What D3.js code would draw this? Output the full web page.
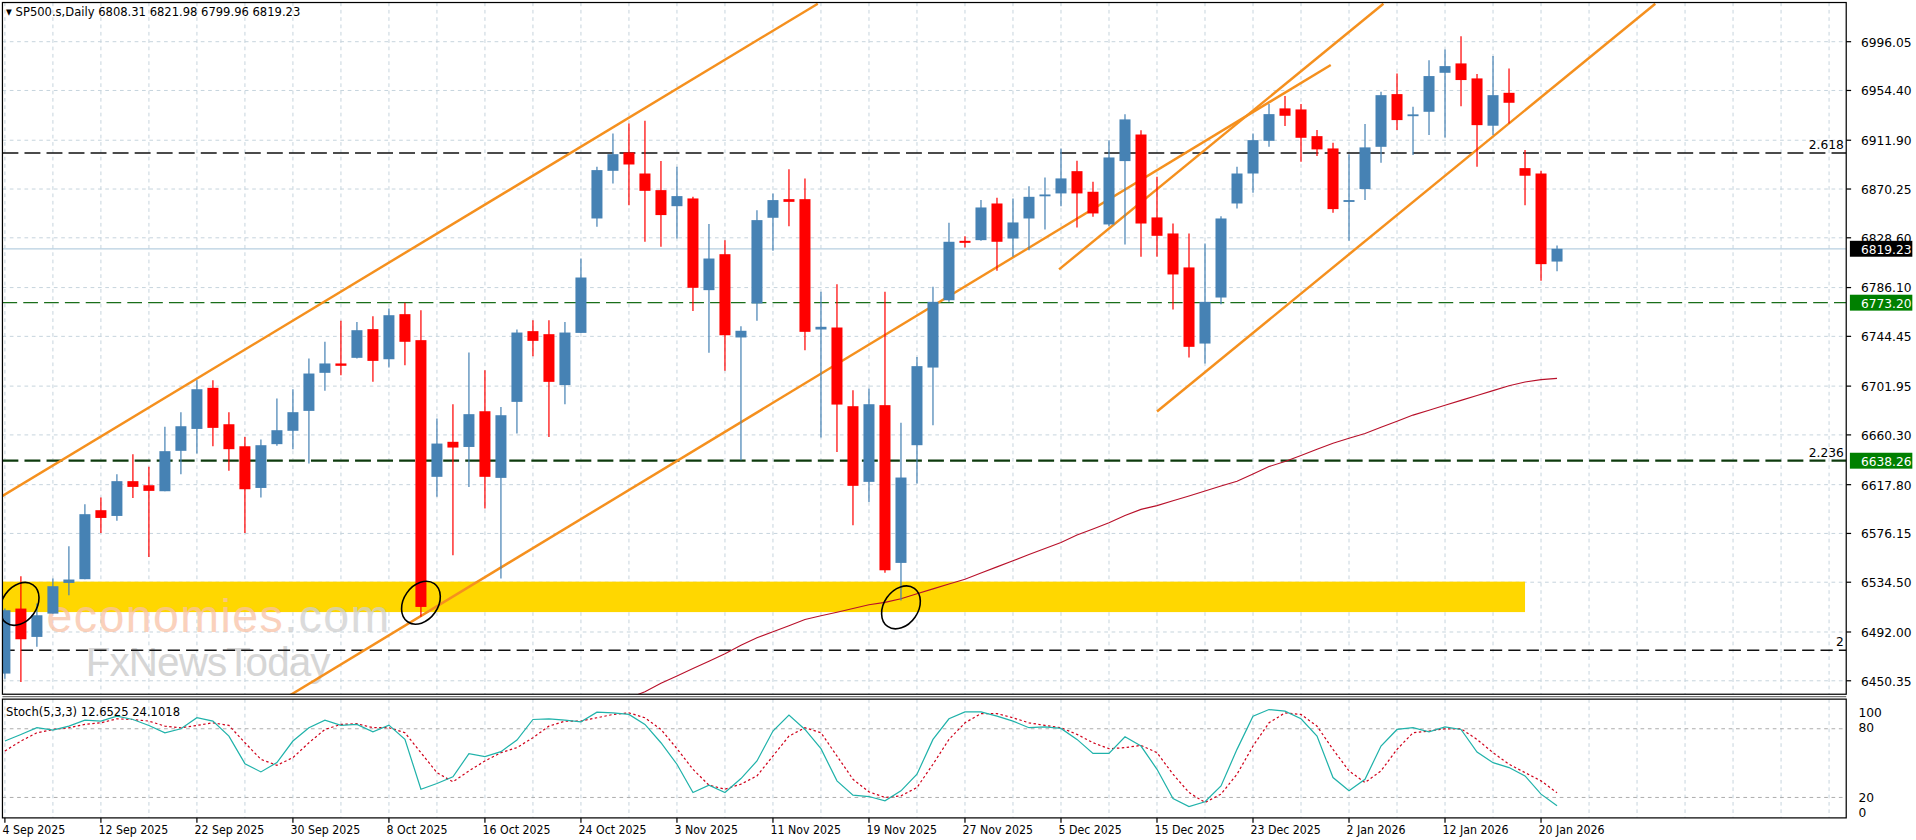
<!DOCTYPE html>
<html><head><meta charset="utf-8">
<script src="https://cdn.jsdelivr.net/npm/d3@7/dist/d3.min.js"></script>
<style>html,body{margin:0;padding:0;background:#fff;overflow:hidden}</style>
</head><body>
<script>
const dateLabels = ["4 Sep 2025","12 Sep 2025","22 Sep 2025","30 Sep 2025","8 Oct 2025","16 Oct 2025","24 Oct 2025","3 Nov 2025","11 Nov 2025","19 Nov 2025","27 Nov 2025","5 Dec 2025","15 Dec 2025","23 Dec 2025","2 Jan 2026","12 Jan 2026","20 Jan 2026"];
const priceTicks = [6996.05,6954.40,6911.90,6870.25,6828.60,6786.10,6744.45,6701.95,6660.30,6617.80,6576.15,6534.50,6492.00,6450.35];
const open = [6456.5,6512,6487.8,6507.7,6533.9,6537.1,6596,6591.1,6620.8,6617.3,
6612.2,6646.7,6665.4,6700.5,6669.4,6650.6,6615,6652.4,6663.8,6680.8,
6713.3,6721.3,6726.1,6750.6,6724.9,6763.4,6741.2,6624.5,6654.4,6650,
6680.5,6623.6,6688.5,6748.9,6746.3,6702.8,6747.4,6845.1,6885.8,6901.5,
6883.5,6869.3,6855.6,6862.2,6783.9,6814.6,6743.5,6772.5,6845.7,6861.6,
6861.6,6750.3,6752,6684.8,6620.2,6685.7,6551,6651.5,6717.8,6775.3,
6826,6826.6,6857.9,6828,6845.1,6864.5,6866.5,6885.5,6867.9,6840,
6894.1,6916.8,6846,6832.3,6803.3,6738.3,6777.6,6857.9,6883.5,6911.4,
6939.1,6938.2,6915.4,6904.9,6859.4,6870.2,6906.3,6951.3,6933.2,6936.2,
6969.5,6977.5,6964.7,6924.3,6952.4,6888.1,6883.5,6808.31];
const high = [6512,6539.6,6516.3,6537.6,6565.2,6601.1,6606.8,6626.7,6643.8,6633,
6667.2,6679.7,6707,6707,6679.7,6658.6,6656.3,6691.4,6699.3,6725.5,
6739.8,6757.7,6756.8,6761.7,6768.2,6773.1,6766.8,6674.3,6686.5,6730.6,
6715.6,6684.2,6750.3,6758.3,6758.3,6756.8,6810.9,6889.2,6917.7,6926.2,
6928.5,6894.1,6889.2,6863.6,6840.3,6826.6,6753.1,6852.2,6866.5,6887.2,
6879.3,6782.5,6789,6698.5,6699.9,6782.5,6670.6,6726.9,6786.7,6841.4,
6830,6860.8,6862.8,6862.2,6872.7,6880.1,6904.9,6894.4,6876.4,6912,
6934.2,6920.5,6880.7,6840.8,6832.3,6823.8,6847.1,6889.2,6917.7,6942.8,
6949.6,6942.8,6920.6,6909.7,6900,6925.7,6953.3,6968.9,6940.5,6980.3,
6989.4,7000.8,6968.4,6983.8,6973.2,6903.5,6885.8,6821.98];
const low = [6452,6449.4,6479.3,6507.7,6523.4,6537,6576.6,6586.9,6606.5,6556.1,
6612.2,6626.7,6644.4,6650.6,6629.6,6576.6,6606.8,6651,6648.1,6635.8,
6697.9,6711.3,6725.5,6705.6,6717.8,6719.8,6505,6607.4,6557.5,6615.9,
6597.4,6537.6,6661.5,6727.5,6658.6,6686.5,6747.4,6838,6875,6856.5,
6825.2,6820.9,6828,6766.2,6730.4,6715,6638.7,6757.7,6817.5,6838.5,
6732.6,6658,6645.8,6583.2,6603.1,6542.5,6519,6618.8,6668.6,6773.9,
6820.3,6826,6800.4,6812.4,6818,6835.7,6855.6,6837.4,6846.5,6838.5,
6822.9,6812.4,6812.4,6767.4,6726.4,6721.3,6771.9,6853.6,6867,6906.3,
6924,6893.5,6898.4,6850,6826,6860.8,6892.6,6920.6,6899.2,6916.3,
6914.3,6941,6889.2,6916.3,6926.2,6856.5,6791.9,6799.96];
const close = [6510.6,6485.8,6506.3,6531.1,6536.8,6592.6,6589.4,6620.8,6615.9,6612.5,
6646.4,6667.7,6699.3,6666.3,6648.1,6613.9,6651.5,6664.3,6679.7,6712.7,
6721.3,6719.3,6749.7,6723.5,6762.5,6739.8,6513.4,6652.9,6649.5,6678,
6624.5,6677.1,6747.7,6740.6,6705.6,6747.7,6794.7,6886.4,6900,6891.2,
6868.7,6848,6864.2,6785.9,6810.9,6745.4,6749.2,6843.7,6860.8,6859.3,
6748.3,6752.6,6686.2,6616.8,6686.5,6544.7,6623.9,6719,6773.9,6825.2,
6824.3,6854.5,6825.2,6841.7,6863.6,6865.6,6879.3,6866.5,6849.4,6897.2,
6929.7,6840.8,6830.3,6797.3,6735.5,6773.9,6845.1,6883.5,6912,6934.2,
6932.8,6914,6904.1,6853.1,6860.8,6905.8,6950.4,6929.1,6934,6966.7,
6975.2,6963.3,6924.8,6950.4,6943.9,6881.6,6806.1,6819.23];
const maStart = 39;
const ma = [6435.7,6440.9,6448.3,6454.5,6460.8,6467.1,6473.4,6480.7,6487.0,6492.2,
6497.4,6502.6,6505.8,6508.9,6512.0,6515.2,6517.3,6520.4,6524.6,6528.8,
6533.0,6537.1,6542.4,6547.6,6552.8,6558.1,6563.3,6568.5,6574.8,6580.0,
6585.2,6591.5,6596.7,6599.9,6604.0,6608.2,6612.4,6616.6,6620.8,6627.0,
6633.3,6637.5,6642.7,6648.0,6653.2,6657.4,6661.5,6666.8,6672.0,6677.2,
6681.4,6685.6,6689.8,6693.9,6698.1,6702.3,6705.4,6707.5,6708.6];
const stochK = [69.3,75,80.9,78.8,82.3,87.5,86.7,91,88.1,82.9,
76.5,80,89.6,86.7,73.6,49.5,42.3,50.4,69.3,80.9,
87.5,82.9,83.8,77.4,83.2,70.7,27.2,32.2,38,58.3,
55.6,60,70.1,88.1,88.7,87.5,86.1,94.5,93.9,92.5,
83.8,67.8,49,24.3,30.7,24.3,36.5,51.9,78,91.9,
79.4,62.6,34.5,22,20.8,17.1,25.8,40.3,70.7,88.7,
94.8,94.8,91,86.7,80.9,81.7,80.3,70.7,58.5,58.5,
73,64.9,44.6,19.1,12.1,16.2,30.1,62,91,96.8,
95.4,88.7,73.6,37.4,25.8,35.9,64.9,79.4,80.9,77.4,
81.7,79.4,59.7,50.4,46.1,38.8,22.9,12.6525];
const stochD = [60.6,69.3,76.5,79.4,80.9,83.8,85.2,88.7,88.1,86.7,
82.3,80.9,82.9,85.2,82.9,67.8,53.3,48.1,54.8,67.8,
79.4,83.8,84.4,80.9,80.9,76.5,59.1,41.7,33.6,43.2,
51.9,59.1,63.5,72.2,82.3,86.7,86.7,89.6,92.5,93.9,
89.6,79.4,62.6,44.6,30.7,27.2,31.6,38.8,56.2,73.6,
80.9,76.5,56.2,35.9,24.9,20,21.4,28.7,49,70.7,
85.2,93.3,93.3,89.6,85.2,82.9,80.9,75.1,67.8,62.6,
63.5,65.5,59.1,40.3,24.3,15.6,22.9,40.3,64.9,85.2,
93.9,92.5,82.3,62,43.2,33,43.2,62,76.5,78,
80,80,70.7,59.1,49,41.7,34.5,24.1018];
const trendLines = [[-0.15,6608.2,50.8,7028.5],[17.29,6433.6,82.86,6976.2],[65.88,6801.6,86.15,7028.5],[72.0,6680.3,103.14,7028.5]];
const fiboLevels = [{p:6901.0,label:"2.618"},{p:6638.26,label:"2.236"},{p:6476.5,label:"2"}];
const supportLevel = 6773.20;
const lastPrice = 6819.23;
const zone = [-0.3, 95.0, 6509.0, 6535.0];
const ellipses = [[0.92,6516],[26.0,6517],[56.0,6513]];

const W=1565,H=686, L=2, R=1508, T=2, B=567, ST=571, SB=668;
const svg=d3.select("body").append("svg").attr("width",1916).attr("height",840)
  .attr("viewBox",`0 0 ${W} ${H}`).style("font-family","'DejaVu Sans',sans-serif");
const x=d3.scaleLinear().domain([0,97]).range([4,4+13.07*97]);
const y=d3.scaleLinear().domain([6450.35,6996.05]).range([556,34]);
const ys=d3.scaleLinear().domain([0,100]).range([670,576.5]);
svg.append("defs").append("clipPath").attr("id","cm").append("rect").attr("x",L).attr("y",T).attr("width",R-L).attr("height",B-T);
svg.select("defs").append("clipPath").attr("id","cs").append("rect").attr("x",L).attr("y",ST).attr("width",R-L).attr("height",SB-ST);
const grid="#c5d3dc";
const vg=d3.range(0,116,3).filter(i=>x(i)<R-1);
[[T,B],[ST,SB]].forEach(([a,b])=>svg.append("g").selectAll("line").data(vg).join("line")
  .attr("x1",d=>x(d)).attr("x2",d=>x(d)).attr("y1",a).attr("y2",b)
  .attr("stroke",grid).attr("stroke-dasharray","3,3").attr("stroke-width",0.8));
svg.append("g").selectAll("line").data(priceTicks).join("line")
  .attr("x1",L).attr("x2",R).attr("y1",d=>y(d)).attr("y2",d=>y(d))
  .attr("stroke",grid).attr("stroke-dasharray","3,3").attr("stroke-width",0.8);
svg.append("g").selectAll("line").data([20,80]).join("line")
  .attr("x1",L).attr("x2",R).attr("y1",d=>ys(d)).attr("y2",d=>ys(d))
  .attr("stroke","#aaa").attr("stroke-dasharray","3,3").attr("stroke-width",0.8);
const gm=svg.append("g").attr("clip-path","url(#cm)");
gm.append("rect").attr("x",x(zone[0])).attr("width",x(zone[1])-x(zone[0]))
  .attr("y",y(zone[3])).attr("height",y(zone[2])-y(zone[3])).attr("fill","#ffd700");
const wm=gm.append("text").attr("x",38).attr("y",516).attr("font-family","'Liberation Sans',Arial,sans-serif").attr("font-size",38).attr("opacity",0.75).attr("textLength",280);
wm.append("tspan").text("economies").attr("fill","#f9c2a6");
wm.append("tspan").text(".com").attr("fill","#cfcfcf");
gm.append("text").attr("x",70).attr("y",552).attr("font-family","'Liberation Sans',Arial,sans-serif").attr("font-size",33).attr("fill","#cccccc").attr("opacity",0.8).attr("textLength",200).text("FxNewsToday");
gm.append("line").attr("x1",L).attr("x2",R).attr("y1",y(lastPrice)).attr("y2",y(lastPrice)).attr("stroke","#b7cfe0").attr("stroke-width",1);
gm.append("line").attr("x1",L).attr("x2",R).attr("y1",y(supportLevel)).attr("y2",y(supportLevel)).attr("stroke","#1a6e1a").attr("stroke-dasharray","12,5").attr("stroke-width",1);
fiboLevels.forEach((f,i)=>{
  gm.append("line").attr("x1",L).attr("x2",R).attr("y1",y(f.p)).attr("y2",y(f.p))
   .attr("stroke",i==1?"#0d3a0d":"#111").attr("stroke-dasharray",i==2?"10,5":"13,5").attr("stroke-width",i==1?1.8:1.2);
  gm.append("text").attr("x",1506).attr("y",y(f.p)-3).attr("text-anchor","end").attr("font-size",10).attr("fill","#000").text(f.label);
});
gm.append("path").datum(ma).attr("fill","none").attr("stroke","#b8102a").attr("stroke-width",0.9)
  .attr("d",d3.line().x((d,i)=>x(i+maStart)).y(d=>y(d)));
gm.append("g").selectAll("line").data(trendLines).join("line")
  .attr("x1",d=>x(d[0])).attr("y1",d=>y(d[1])).attr("x2",d=>x(d[2])).attr("y2",d=>y(d[3]))
  .attr("stroke","#f5901e").attr("stroke-width",2);
const idx=d3.range(open.length);
const col=i=>close[i]>=open[i]?"#4682b4":"#ff0000";
gm.append("g").selectAll("line").data(idx).join("line")
  .attr("x1",i=>x(i)).attr("x2",i=>x(i)).attr("y1",i=>y(high[i])).attr("y2",i=>y(low[i])).attr("stroke",col).attr("stroke-width",1);
gm.append("g").selectAll("rect").data(idx).join("rect")
  .attr("x",i=>x(i)-4.5).attr("width",9)
  .attr("y",i=>y(Math.max(open[i],close[i])))
  .attr("height",i=>Math.max(1.5,Math.abs(y(open[i])-y(close[i])))).attr("fill",col);
gm.append("g").selectAll("ellipse").data(ellipses).join("ellipse")
  .attr("transform",d=>`translate(${x(d[0])},${y(d[1])}) rotate(35)`)
  .attr("rx",14).attr("ry",19).attr("fill","none").attr("stroke","#000").attr("stroke-width",1.3);
const gs=svg.append("g").attr("clip-path","url(#cs)");
gs.append("path").datum(stochD).attr("fill","none").attr("stroke","#d0021b").attr("stroke-dasharray","2,2").attr("stroke-width",1)
  .attr("d",d3.line().x((d,i)=>x(i)).y(d=>ys(d)));
gs.append("path").datum(stochK).attr("fill","none").attr("stroke","#20b2aa").attr("stroke-width",1)
  .attr("d",d3.line().x((d,i)=>x(i)).y(d=>ys(d)));
svg.append("rect").attr("x",L).attr("y",T).attr("width",R-L).attr("height",B-T).attr("fill","none").attr("stroke","#000");
svg.append("rect").attr("x",L).attr("y",ST).attr("width",R-L).attr("height",SB-ST).attr("fill","none").attr("stroke","#000");
svg.append("line").attr("x1",L).attr("x2",R).attr("y1",569).attr("y2",569).attr("stroke","#777");
svg.append("g").selectAll("text").data(priceTicks).join("text")
  .attr("x",1520).attr("y",d=>y(d)+4).attr("font-size",10).attr("fill","#000").text(d=>d.toFixed(2));
svg.append("g").selectAll("line").data(priceTicks).join("line")
  .attr("x1",R).attr("x2",R+4).attr("y1",d=>y(d)).attr("y2",d=>y(d)).attr("stroke","#000");
const box=(v,fill)=>{svg.append("rect").attr("x",1511).attr("y",y(v)-6.5).attr("width",51).attr("height",13).attr("fill",fill);
  svg.append("text").attr("x",1520).attr("y",y(v)+4).attr("font-size",10).attr("fill","#fff").text(v.toFixed(2));};
box(lastPrice,"#000"); box(supportLevel,"#008000"); box(fiboLevels[1].p,"#008000");
[[100,583],[80,595],[20,652],[0,664]].forEach(([v,yy])=>svg.append("text").attr("x",1518).attr("y",yy+3).attr("font-size",10).text(v));
svg.append("g").selectAll("text").data(dateLabels).join("text")
  .attr("x",(d,i)=>x(i*6)-2).attr("y",681).attr("font-size",10).attr("font-family","'DejaVu Sans Condensed','DejaVu Sans',sans-serif").text(d=>d);
svg.append("g").selectAll("line").data(dateLabels).join("line")
  .attr("x1",(d,i)=>x(i*6)).attr("x2",(d,i)=>x(i*6)).attr("y1",SB).attr("y2",SB+4).attr("stroke","#000");
svg.append("text").attr("x",5).attr("y",13).attr("font-size",10.5).attr("font-family","'DejaVu Sans Condensed','DejaVu Sans',sans-serif").text("▾ SP500.s,Daily  6808.31 6821.98 6799.96 6819.23");
svg.append("text").attr("x",5).attr("y",585).attr("font-size",10.5).attr("font-family","'DejaVu Sans Condensed','DejaVu Sans',sans-serif").text("Stoch(5,3,3) 12.6525 24.1018");
</script>
</body></html>
